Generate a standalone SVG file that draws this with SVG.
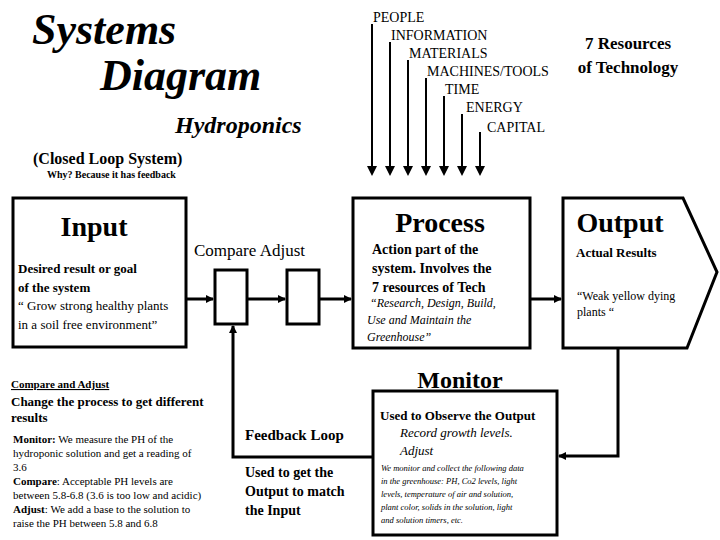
<svg xmlns="http://www.w3.org/2000/svg" width="720" height="540" viewBox="0 0 720 540">
<defs>
<marker id="ah" markerWidth="8" markerHeight="8" refX="7" refY="4" orient="auto" markerUnits="userSpaceOnUse"><path d="M0,0 L8,4 L0,8 z" fill="#000"/></marker>
<style>
text{font-family:'Liberation Serif','DejaVu Serif','Noto Serif',serif;fill:#000}
.b{font-weight:bold}.i{font-style:italic}
.box{fill:#fff;stroke:#000;stroke-width:3}
.ln{fill:none;stroke:#000;stroke-width:3}
.rs{fill:none;stroke:#000;stroke-width:2}
.r{font-size:14px}
</style>
</defs>
<rect width="720" height="540" fill="#fff"/>
<g id="title">
<text x="32" y="44" class="b i" font-size="44">Systems</text>
<text x="100" y="90" class="b i" font-size="44">Diagram</text>
<text x="175" y="133" class="b i" font-size="24">Hydroponics</text>
<text x="33" y="164" class="b" font-size="16">(Closed Loop System)</text>
<text x="47" y="178" class="b" font-size="10">Why? Because it has feedback</text>
</g>
<g id="resources">
<text x="628" y="49" class="b" font-size="17" text-anchor="middle">7 Resources</text>
<text x="628" y="73" class="b" font-size="17" text-anchor="middle">of Technology</text>
<text x="373" y="22" class="r">PEOPLE</text>
<text x="391" y="40" class="r">INFORMATION</text>
<text x="409" y="58" class="r">MATERIALS</text>
<text x="427" y="76" class="r">MACHINES/TOOLS</text>
<text x="445" y="94" class="r">TIME</text>
<text x="466" y="112" class="r">ENERGY</text>
<text x="487" y="132" class="r">CAPITAL</text>
</g>
<g id="connectors">
<path class="rs" d="M372,24V174M390,42V174M408,60V174M426,78V174M444,96V174M462,114V174M480,132V174"/>
<g fill="#000"><path d="M367,166h10l-5,10z M385,166h10l-5,10z M403,166h10l-5,10z M421,166h10l-5,10z M439,166h10l-5,10z M457,166h10l-5,10z M475,166h10l-5,10z"/></g>
<path class="ln" d="M186,299H213" marker-end="url(#ah)"/>
<path class="ln" d="M247,299H285" marker-end="url(#ah)"/>
<path class="ln" d="M319,299H351" marker-end="url(#ah)"/>
<path class="ln" d="M530,299H561" marker-end="url(#ah)"/>
<path class="ln" d="M618,348V456H559" marker-end="url(#ah)"/>
<path class="ln" d="M373,457H233V326" marker-end="url(#ah)"/>
</g>
<g id="input">
<rect class="box" x="13" y="198" width="173" height="149"/>
<text x="94" y="236" class="b" font-size="28" text-anchor="middle">Input</text>
<text x="18" y="273" class="b" font-size="13">Desired result or goal</text>
<text x="18" y="292" class="b" font-size="13">of the system</text>
<text x="18" y="310" font-size="13">“ Grow strong healthy plants</text>
<text x="18" y="329" font-size="13">in a soil free environment”</text>
</g>
<g id="compare"><rect class="box" x="215" y="270" width="32" height="54"/></g>
<g id="adjust"><rect class="box" x="287" y="270" width="32" height="54"/></g>
<text x="194" y="256" font-size="17">Compare  Adjust</text>
<g id="process">
<rect class="box" x="353" y="198" width="177" height="150"/>
<text x="440" y="232" class="b" font-size="28" text-anchor="middle">Process</text>
<text x="372" y="254" class="b" font-size="14">Action part of the</text>
<text x="372" y="273" class="b" font-size="14">system. Involves the</text>
<text x="372" y="292" class="b" font-size="14">7 resources of  Tech</text>
<text x="370" y="307" class="i" font-size="12">“Research, Design, Build,</text>
<text x="367" y="324" class="i" font-size="12">Use and Maintain the</text>
<text x="367" y="341" class="i" font-size="12">Greenhouse”</text>
</g>
<g id="output">
<path class="box" d="M563,198H683L717,272L687,348H563Z"/>
<text x="620" y="232" class="b" font-size="28" text-anchor="middle">Output</text>
<text x="576" y="257" class="b" font-size="13">Actual Results</text>
<text x="577" y="300" font-size="12">“Weak yellow dying</text>
<text x="577" y="316" font-size="12">plants “</text>
</g>
<g id="monitor">
<rect class="box" x="373" y="391" width="184" height="144"/>
<text x="460" y="388" class="b" font-size="24" text-anchor="middle">Monitor</text>
<text x="380" y="420" class="b" font-size="13">Used to Observe the Output</text>
<text x="400" y="437" class="i" font-size="13">Record growth levels.</text>
<text x="400" y="455" class="i" font-size="13">Adjust</text>
<text x="381" y="471" class="i" font-size="8.5">We monitor and collect the following data</text>
<text x="381" y="484" class="i" font-size="8.5">in the greenhouse: PH, Co2 levels, light</text>
<text x="381" y="497" class="i" font-size="8.5">levels, temperature of air and solution,</text>
<text x="381" y="510" class="i" font-size="8.5">plant color, solids in the solution, light</text>
<text x="381" y="523" class="i" font-size="8.5">and solution timers, etc.</text>
</g>
<g id="feedback">
<text x="245" y="440" class="b" font-size="15">Feedback Loop</text>
<text x="245" y="477" class="b" font-size="14">Used to get the</text>
<text x="245" y="496" class="b" font-size="14">Output to match</text>
<text x="245" y="515" class="b" font-size="14">the Input</text>
</g>
<g id="notes">
<text x="11" y="388" class="b" font-size="11" text-decoration="underline">Compare and Adjust</text>
<text x="11" y="406" class="b" font-size="13">Change the process to get different</text>
<text x="11" y="422" class="b" font-size="13">results</text>
<text x="13" y="443" font-size="11"><tspan class="b">Monitor:</tspan> We measure the PH of the</text>
<text x="13" y="457" font-size="11">hydroponic solution  and get a reading of</text>
<text x="13" y="471" font-size="11">3.6</text>
<text x="13" y="485" font-size="11"><tspan class="b">Compare</tspan>: Acceptable  PH levels are</text>
<text x="13" y="499" font-size="11">between 5.8-6.8 (3.6 is too low and acidic)</text>
<text x="13" y="513" font-size="11"><tspan class="b">Adjust</tspan>: We add a base to the solution to</text>
<text x="13" y="527" font-size="11">raise the PH  between 5.8 and 6.8</text>
</g>
</svg>
